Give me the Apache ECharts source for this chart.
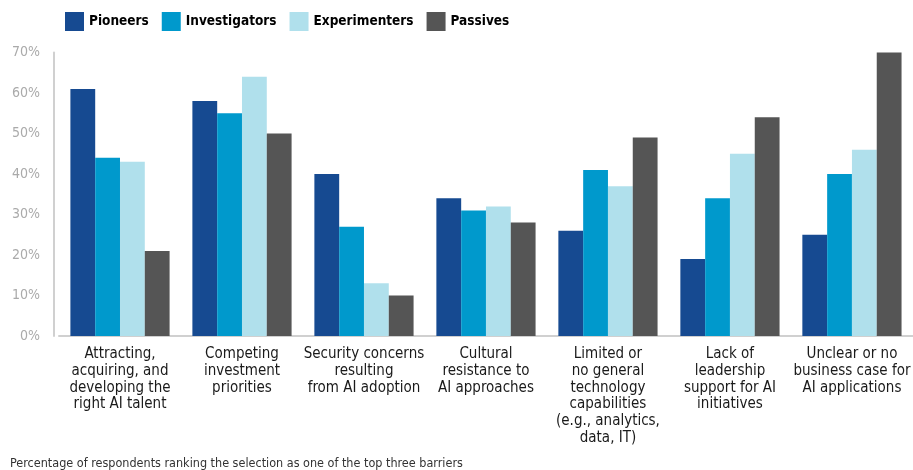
<!DOCTYPE html>
<html>
<head>
<meta charset="utf-8">
<script src="https://cdn.jsdelivr.net/npm/echarts@6/dist/echarts.min.js"></script>
<style>
  html, body { margin: 0; padding: 0; background: #fff; }
  #chart { width: 913px; height: 470px; }
</style>
</head>
<body>
<div id="chart"></div>
<script>
const categories = [
  "Attracting,\nacquiring, and\ndeveloping the\nright AI talent",
  "Competing\ninvestment\npriorities",
  "Security concerns\nresulting\nfrom AI adoption",
  "Cultural\nresistance to\nAI approaches",
  "Limited or\nno general\ntechnology\ncapabilities\n(e.g., analytics,\ndata, IT)",
  "Lack of\nleadership\nsupport for AI\ninitiatives",
  "Unclear or no\nbusiness case for\nAI applications"
];
const pioneers      = [61, 58, 40, 34, 26, 19, 25];
const investigators = [44, 55, 27, 31, 41, 34, 40];
const experimenters = [43, 64, 13, 32, 37, 45, 46];
const passives      = [21, 50, 10, 28, 49, 54, 70];
const yTicks = [0, 10, 20, 30, 40, 50, 60, 70];
const note = "Percentage of respondents ranking the selection as one of the top three barriers";

const font = "'Liberation Sans Narrow', 'DejaVu Sans Condensed', sans-serif";
const colors = ["#164a91", "#0099cc", "#b0e0ec", "#555555"];

const myChart = echarts.init(document.getElementById("chart"));

function bar(name, data) {
  return {
    name: name,
    type: "bar",
    data: data,
    barWidth: 24.8,
    barGap: "0%",
    animation: false
  };
}

myChart.setOption({
  color: colors,
  animation: false,
  legend: {
    left: 65,
    top: 12,
    padding: 0,
    itemWidth: 19,
    itemHeight: 19,
    itemGap: 13,
    icon: "rect",
    textStyle: { fontFamily: font, fontWeight: "bold", fontSize: 13.5, color: "#000" },
    data: ["Pioneers", "Investigators", "Experimenters", "Passives"]
  },
  grid: { left: 59, right: -6, top: 52.5, bottom: 134, containLabel: false },
  graphic: [{
    type: "text",
    left: 10,
    top: 457,
    style: { text: note, fontFamily: font, fontSize: 12.5, fill: "#333" }
  }],
  xAxis: {
    type: "category",
    data: categories,
    axisLine: { lineStyle: { color: "#d0d0d0", width: 2 } },
    axisTick: { show: false },
    axisLabel: {
      interval: 0,
      margin: 10,
      fontFamily: font,
      fontSize: 15,
      lineHeight: 16.7,
      color: "#1a1a1a",
      align: "center"
    }
  },
  yAxis: {
    type: "value",
    min: yTicks[0],
    max: yTicks[yTicks.length - 1],
    interval: 10,
    offset: 5,
    axisLine: { show: true, lineStyle: { color: "#d0d0d0", width: 2 } },
    axisTick: { show: false },
    splitLine: { show: false },
    axisLabel: {
      margin: 14,
      fontFamily: font,
      fontSize: 14,
      color: "#aaaaaa",
      formatter: "{value}%"
    }
  },
  series: [
    bar("Pioneers", pioneers),
    bar("Investigators", investigators),
    bar("Experimenters", experimenters),
    bar("Passives", passives)
  ]
});
</script>
</body>
</html>
